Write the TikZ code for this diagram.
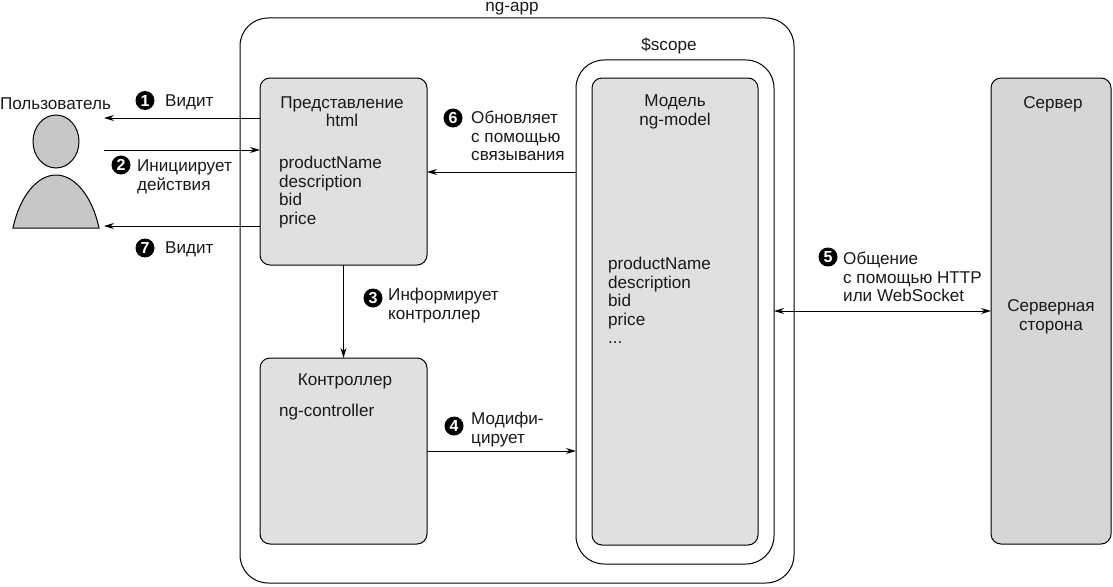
\documentclass[tikz,border=0pt]{standalone}
\usepackage{fontspec}
\setmainfont{Liberation Sans}
\usepackage{tikz}
\usetikzlibrary{arrows.meta, shapes.geometric}
\definecolor{boxgray}{gray}{0.88}
\definecolor{servergray}{gray}{0.84}
\definecolor{usergray}{gray}{0.78}
\tikzstyle{every node}=[font=\fontsize{17.1}{18.6}\selectfont, inner sep=0pt, text=black!90]
\tikzstyle{frame} = [draw, line width=1pt, rounded corners=28pt, outer sep=0pt]
\tikzstyle{panel} = [draw, line width=1pt, fill=boxgray, rounded corners=10pt, outer sep=0pt]
\tikzstyle{label} = [anchor=west, align=left]
\tikzstyle{num} = [circle, fill=black, minimum size=19pt, text=white, font=\fontsize{16}{16}\bfseries\selectfont]
\tikzstyle{arrow} = [line width=1pt, -{Stealth[length=10pt, width=6pt]}]
\tikzstyle{dblarrow} = [line width=1pt, {Stealth[length=10pt, width=6pt]}-{Stealth[length=10pt, width=6pt]}]

\begin{document}
\begin{tikzpicture}[x=1pt, y=-1pt]
	\useasboundingbox (0, 0) rectangle (1113, 586);

	\node[frame, minimum width=554pt, minimum height=565pt](app) at (517, 300.5){};
	\node[frame, minimum width=198pt, minimum height=504pt](scope) at (675, 312){};
	\node[panel, minimum width=167pt, minimum height=187pt](view) at (343.5, 171.5){};
	\node[panel, minimum width=167pt, minimum height=186pt](ctrl) at (343.5, 451){};
	\node[panel, minimum width=166pt, minimum height=467pt](model) at (675, 311.5){};
	\node[panel, fill=servergray, minimum width=120pt, minimum height=466pt](server) at (1051, 311){};

	\coordinate(seeone) at (104, 118);
	\coordinate(act) at (104, 150);
	\coordinate(seetwo) at (104, 226);
	\coordinate(update) at (427, 172);

	% user
	\draw[line width=1pt, fill=usergray](13, 228) .. controls (20, 195) and (38, 175) .. (56, 175) .. controls (74, 175) and (92, 195) .. (99, 228) -- cycle;
	\node[draw, line width=1pt, fill=usergray, ellipse, minimum width=46pt, minimum height=53pt](head) at (56, 141.5){};
	\node(user) at (55.5, 104){Пользователь};

	\node(appname) at (512, 8.5){ng-app};
	\node(scopename) at (669, 46){\$scope};
	\node[align=center](viewname) at (342, 111.5){Представление\\html};
	\node[label](viewlist) at (279, 192){productName\\description\\bid\\price};
	\node(ctrlname) at (345, 381){Контроллер};
	\node[label](ctrlattr) at (279, 412){ng-controller};
	\node[align=center](modelname) at (675, 112){Модель\\ng-model};
	\node[label](modellist) at (608, 300.5){productName\\description\\bid\\price\\...};
	\node(servername) at (1053, 104){Сервер};
	\node[align=center](serverside) at (1051, 317){Серверная\\сторона};

	\node[num](one) at (145, 100.5){1};
	\node[label](seeonetext) at (165, 102){Видит};
	\node[num](two) at (121, 165){2};
	\node[label](acttext) at (137, 177){Инициирует\\действия};
	\node[num](seven) at (145, 248){7};
	\node[label](seetwotext) at (165, 249){Видит};
	\node[num](three) at (373, 298){3};
	\node[label](informtext) at (388, 305.5){Информирует\\контроллер};
	\node[num](four) at (454, 426){4};
	\node[label](modifytext) at (471, 429.5){Модифи-\\цирует};
	\node[num](five) at (828, 257){5};
	\node[label](talktext) at (843, 277){Общение\\с помощью HTTP\\или WebSocket};
	\node[num](six) at (453, 118){6};
	\node[label](updatetext) at (471, 136){Обновляет\\с помощью\\связывания};

	\draw[arrow](view.west |- seeone) -- (seeone);
	\draw[arrow](act) -- (view.west |- act);
	\draw[arrow](view.west |- seetwo) -- (seetwo);
	\draw[arrow](scope.west |- update) -- (update);
	\draw[arrow](view) -- (ctrl);
	\draw[arrow](ctrl) -- (scope.west |- ctrl);
	\draw[dblarrow](scope.east |- server.west) -- (server.west);
\end{tikzpicture}
\end{document}
